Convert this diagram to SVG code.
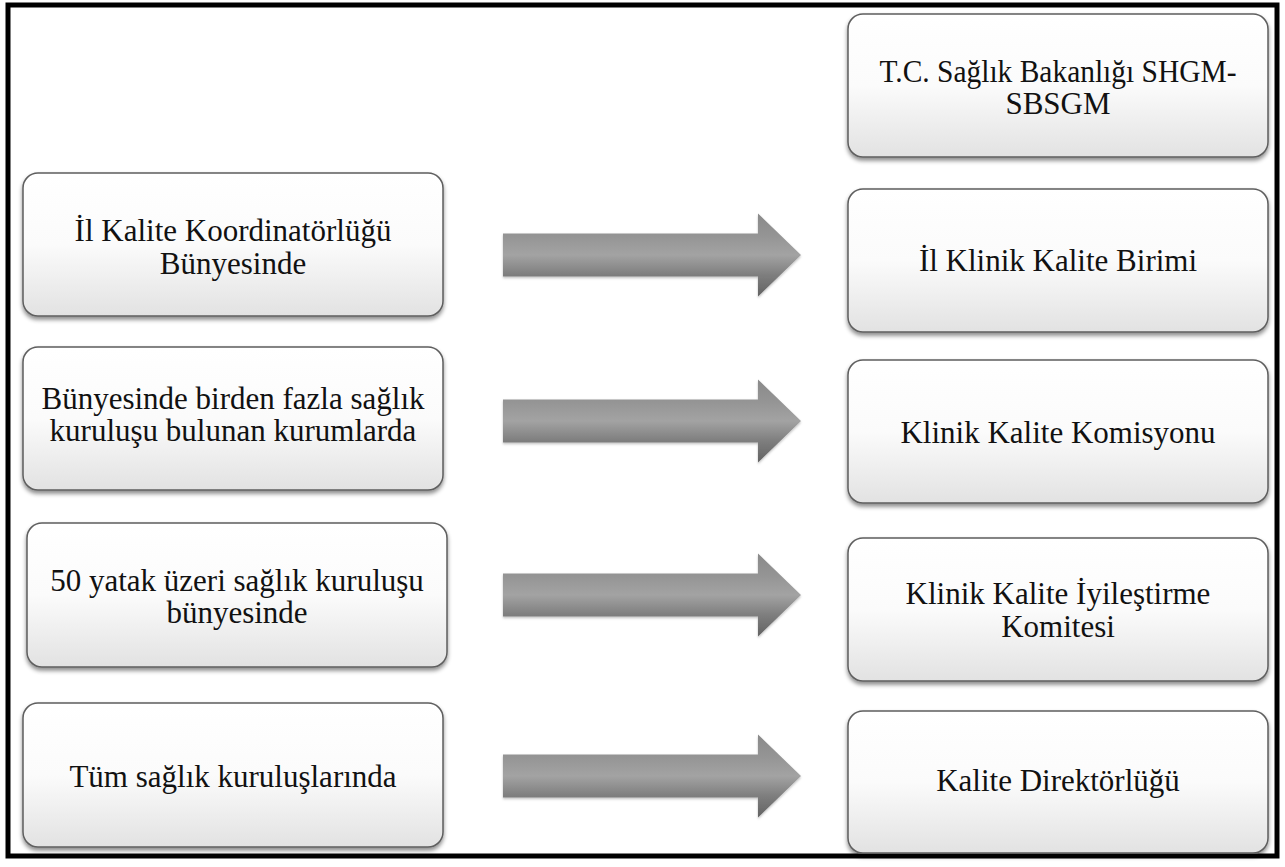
<svg xmlns="http://www.w3.org/2000/svg" width="1285" height="867" viewBox="0 0 1285 867">
<style>
.box{fill:url(#boxGrad);stroke:#5e5e5e;stroke-width:1.5;filter:url(#shadow)}
.lbl{font-family:"Liberation Serif","DejaVu Serif",serif;font-size:31px;fill:#111;text-anchor:middle}
.arrow{fill:url(#arrGrad);filter:url(#ashadow)}
</style>
<defs>
<linearGradient id="boxGrad" x1="0" y1="0" x2="0" y2="1">
<stop offset="0" stop-color="#ffffff"/>
<stop offset="0.5" stop-color="#fbfbfb"/>
<stop offset="1" stop-color="#e2e2e2"/>
</linearGradient>
<linearGradient id="arrGrad" x1="0" y1="0" x2="0" y2="1">
<stop offset="0" stop-color="#8a8a8a"/>
<stop offset="0.26" stop-color="#949494"/>
<stop offset="0.5" stop-color="#a3a3a3"/>
<stop offset="0.74" stop-color="#7e7e7e"/>
<stop offset="1" stop-color="#626262"/>
</linearGradient>
<filter id="shadow" x="-5%" y="-10%" width="110%" height="130%">
<feDropShadow dx="0" dy="3" stdDeviation="2" flood-color="#000" flood-opacity="0.45"/>
</filter>
<filter id="ashadow" x="-5%" y="-10%" width="110%" height="130%">
<feDropShadow dx="0" dy="1.5" stdDeviation="1.2" flood-color="#000" flood-opacity="0.25"/>
</filter>
<path id="arr" d="M503,-21.5 H758 V-41.5 L801,0 L758,41.5 V21.5 H503 Z"/>
</defs>
<rect width="1285" height="867" fill="#ffffff"/>
<rect x="8" y="5" width="1269" height="851" fill="none" stroke="#000" stroke-width="5"/>

<g id="connectors">
<use href="#arr" class="arrow" transform="translate(0,255)"/>
<use href="#arr" class="arrow" transform="translate(0,421)"/>
<use href="#arr" class="arrow" transform="translate(0,595)"/>
<use href="#arr" class="arrow" transform="translate(0,776)"/>
</g>

<g id="n-top">
<rect class="box" x="848" y="14" width="420" height="143" rx="15"/>
<text class="lbl" x="1058" y="82" textLength="357" lengthAdjust="spacingAndGlyphs">T.C. Sağlık Bakanlığı SHGM-</text>
<text class="lbl" x="1058" y="114">SBSGM</text>
</g>

<g id="n-l1">
<rect class="box" x="23" y="173" width="420" height="143" rx="15"/>
<text class="lbl" x="233" y="241">İl Kalite Koordinatörlüğü</text>
<text class="lbl" x="233" y="274">Bünyesinde</text>
</g>
<g id="n-r1">
<rect class="box" x="848" y="189" width="420" height="143" rx="15"/>
<text class="lbl" x="1058" y="271">İl Klinik Kalite Birimi</text>
</g>

<g id="n-l2">
<rect class="box" x="23" y="347" width="420" height="143" rx="15"/>
<text class="lbl" x="233" y="409">Bünyesinde birden fazla sağlık</text>
<text class="lbl" x="233" y="441">kuruluşu bulunan kurumlarda</text>
</g>
<g id="n-r2">
<rect class="box" x="848" y="360" width="420" height="143" rx="15"/>
<text class="lbl" x="1058" y="443">Klinik Kalite Komisyonu</text>
</g>

<g id="n-l3">
<rect class="box" x="27" y="523" width="420" height="144" rx="15"/>
<text class="lbl" x="237" y="591">50 yatak üzeri sağlık kuruluşu</text>
<text class="lbl" x="237" y="623">bünyesinde</text>
</g>
<g id="n-r3">
<rect class="box" x="848" y="538" width="420" height="143" rx="15"/>
<text class="lbl" x="1058" y="604">Klinik Kalite İyileştirme</text>
<text class="lbl" x="1058" y="637">Komitesi</text>
</g>

<g id="n-l4">
<rect class="box" x="23" y="703" width="420" height="144" rx="15"/>
<text class="lbl" x="233" y="787">Tüm sağlık kuruluşlarında</text>
</g>
<g id="n-r4">
<rect class="box" x="848" y="711" width="420" height="142" rx="15"/>
<text class="lbl" x="1058" y="791">Kalite Direktörlüğü</text>
</g>
</svg>
